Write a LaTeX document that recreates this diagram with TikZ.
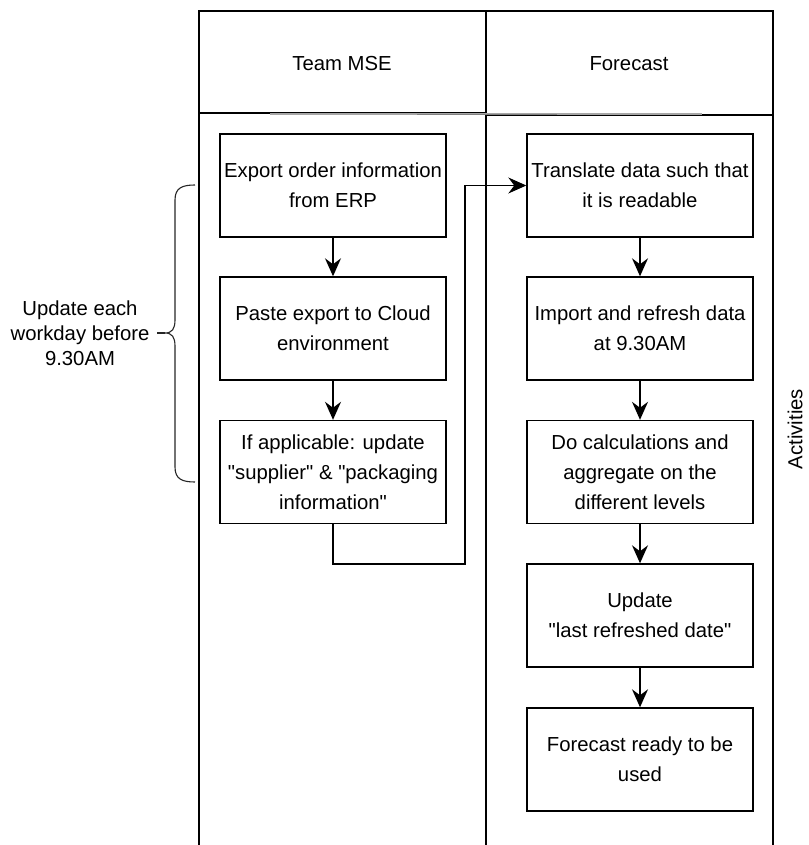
\documentclass[tikz,border=0pt]{standalone}
\usepackage{fontspec}
\setmainfont{Liberation Sans}[Ligatures=TeXOff]
\usetikzlibrary{arrows.meta}
\begin{document}
\begin{tikzpicture}[x=1pt,y=-1pt,
  lane/.style={draw=black,line width=1.4pt},
  stepbox/.style={draw=black,line width=1.4pt,minimum width=226pt,minimum height=103pt,align=center,inner sep=0pt,font=\fontsize{20.3}{30}\selectfont},
  flow/.style={draw=black,line width=1.4pt,-{Stealth[length=18pt,width=16pt,inset=6pt]}},
  lbl/.style={font=\fontsize{20.3}{25}\selectfont,align=center,inner sep=0pt},
  brace/.style={draw=black!85,line width=1.1pt}
]
\useasboundingbox (0,0) rectangle (808,845);
% lanes
\draw[lane] (199,845) -- (199,11) -- (773,11) -- (773,845);
\draw[lane] (486,11) -- (486,845);
\draw[lane] (199,113) -- (486,113);
\draw[lane] (486,115) -- (773,115);
\draw[draw=gray!70,line width=1.6pt] (270,114) -- (702,114);
\draw[draw=gray,line width=1.8pt] (417,114.5) -- (557,114.5);
\node[lbl] (h1) at (342,64) {Team MSE};
\node[lbl] (h2) at (629,64) {Forecast};
\node[lbl,rotate=90] (act) at (795,429) {Activities};
% boxes left
\node[stepbox] (b1) at (333,185.5) {Export order information\\from ERP};
\node[stepbox] (b2) at (333,328.5) {Paste export to Cloud\\environment};
\node[stepbox] (b3) at (333,472) {If applicable: update\\"supplier" \& "packaging\\information"};
% boxes right
\node[stepbox] (r1) at (640,185.5) {Translate data such that\\it is readable};
\node[stepbox] (r2) at (640,328.5) {Import and refresh data\\at 9.30AM};
\node[stepbox] (r3) at (640,472) {Do calculations and\\aggregate on the\\different levels};
\node[stepbox] (r4) at (640,615.5) {Update\\"last refreshed date"};
\node[stepbox] (r5) at (640,759.5) {Forecast ready to be\\used};
% arrows
\draw[flow] (b1) -- (b2);
\draw[flow] (b2) -- (b3);
\draw[flow] (r1) -- (r2);
\draw[flow] (r2) -- (r3);
\draw[flow] (r3) -- (r4);
\draw[flow] (r4) -- (r5);
\coordinate (c1) at (333,564);
\coordinate (c2) at (465,564);
\coordinate (c3) at (465,185.5);
\draw[flow] (b3.south) -- (c1) -- (c2) -- (c3) -- (r1.west);
% brace
\draw[brace] (195,185) .. controls (182,185) and (175,188) .. (175,200) -- (175,320)
  .. controls (175,329) and (172,333) .. (165,333)
  .. controls (172,333) and (175,337) .. (175,346) -- (175,467)
  .. controls (175,479) and (182,482) .. (195,482);
\draw[brace] (165,333) -- (157,333);
\node[lbl] (bt) at (80,333) {Update each\\workday before\\9.30AM};
\end{tikzpicture}
\end{document}
